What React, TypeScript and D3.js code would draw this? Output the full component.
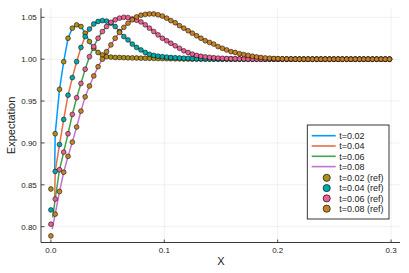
import React from 'react';
import * as d3 from 'd3';

// x grid (X)
const xGrid = [
  0, 0.0038, 0.0076, 0.0113, 0.0151, 0.0189, 0.0227, 0.0265, 0.0302, 0.034,
  0.0378, 0.0416, 0.0454, 0.0491, 0.0529, 0.0567, 0.0605, 0.0643, 0.068, 0.0718,
  0.0756, 0.0794, 0.0832, 0.0869, 0.0907, 0.0945, 0.0983, 0.1021, 0.1058, 0.1096,
  0.1134, 0.1172, 0.121, 0.1247, 0.1285, 0.1323, 0.1361, 0.1399, 0.1436, 0.1474,
  0.1512, 0.155, 0.1588, 0.1625, 0.1663, 0.1701, 0.1739, 0.1777, 0.1814, 0.1852,
  0.189, 0.1928, 0.1966, 0.2003, 0.2041, 0.2079, 0.2117, 0.2155, 0.2192, 0.223,
  0.2268, 0.2306, 0.2344, 0.2381, 0.2419, 0.2457, 0.2495, 0.2533, 0.257, 0.2608,
  0.2646, 0.2684, 0.2722, 0.2759, 0.2797, 0.2835, 0.2873, 0.2911, 0.2948, 0.2986,
];

const ref002 = [
  0.845, 0.911, 0.964, 0.997, 1.025, 1.037, 1.041, 1.039, 1.031, 1.021,
  1.013, 1.008, 1.005, 1.003, 1.0025, 1.002, 1.002, 1.0018, 1.0016, 1.0015,
  1.0014, 1.0012, 1.0011, 1.001, 1.0009, 1.0008, 1.0007, 1.0006, 1.0005, 1.0004,
  1.0003, 1.0002, 1.0001, 1, 1, 1, 1, 1, 1, 1,
  1, 1, 1, 1, 1, 1, 1, 1, 1, 1,
  1, 1, 1, 1, 1, 1, 1, 1, 1, 1,
  1, 1, 1, 1, 1, 1, 1, 1, 1, 1,
  1, 1, 1, 1, 1, 1, 1, 1, 1, 1,
];

const ref004 = [
  0.82, 0.866, 0.898, 0.928, 0.957, 0.978, 0.997, 1.014, 1.027, 1.036,
  1.042, 1.045, 1.046, 1.0455, 1.043, 1.039, 1.033, 1.027, 1.023, 1.018,
  1.014, 1.011, 1.008, 1.0058, 1.0045, 1.0036, 1.003, 1.0025, 1.002, 1.0017,
  1.0014, 1.0012, 1.001, 1.0008, 1.0006, 1.0005, 1.0004, 1.0003, 1.0002, 1.0001,
  1, 1, 1, 1, 1, 1, 1, 1, 1, 1,
  1, 1, 1, 1, 1, 1, 1, 1, 1, 1,
  1, 1, 1, 1, 1, 1, 1, 1, 1, 1,
  1, 1, 1, 1, 1, 1, 1, 1, 1, 1,
];

const ref006 = [
  0.803, 0.833, 0.868, 0.889, 0.911, 0.934, 0.954, 0.971, 0.988, 1.003,
  1.015, 1.025, 1.033, 1.039, 1.044, 1.047, 1.049, 1.05, 1.0497, 1.048,
  1.0465, 1.0445, 1.041, 1.037, 1.033, 1.029, 1.025, 1.022, 1.019, 1.016,
  1.013, 1.01, 1.008, 1.006, 1.0045, 1.0035, 1.0028, 1.0022, 1.0017, 1.0013,
  1.001, 1.0008, 1.0006, 1.0005, 1.0004, 1.0003, 1.0002, 1.0001, 1, 1,
  1, 1, 1, 1, 1, 1, 1, 1, 1, 1,
  1, 1, 1, 1, 1, 1, 1, 1, 1, 1,
  1, 1, 1, 1, 1, 1, 1, 1, 1, 1,
];

const ref008 = [
  0.789, 0.815, 0.842, 0.865, 0.884, 0.901, 0.919, 0.938, 0.955, 0.968,
  0.98, 0.991, 1.0, 1.009, 1.017, 1.025, 1.032, 1.038, 1.043, 1.047,
  1.0505, 1.0525, 1.0535, 1.054, 1.054, 1.053, 1.0515, 1.049, 1.046, 1.0435,
  1.04, 1.037, 1.034, 1.031, 1.028, 1.025, 1.022, 1.02, 1.018, 1.015,
  1.013, 1.011, 1.009, 1.008, 1.0065, 1.0055, 1.0045, 1.0035, 1.0027, 1.002,
  1.0015, 1.0011, 1.0008, 1.0006, 1.0004, 1.0003, 1.0002, 1.0001, 1, 1,
  1, 1, 1, 1, 1, 1, 1, 1, 1, 1,
  1, 1, 1, 1, 1, 1, 1, 1, 1, 1,
];

// solution lines start slightly off the grid
const lineLabels = ['t=0.02', 't=0.04', 't=0.06', 't=0.08'];
const refLabels = ['t=0.02 (ref)', 't=0.04 (ref)', 't=0.06 (ref)', 't=0.08 (ref)'];
const lineStartX = [0.0033, 0.0033, 0.0016, 0.0012];
const lineStartY = [0.866, 0.833, 0.811, 0.797];
const lineColors = ['#009AFA', '#E36F47', '#3EA44E', '#C371D2'];
const refColors = ['#AC8E18', '#00A9AD', '#ED5E93', '#C68225'];

const xTicks = [0, 0.1, 0.2, 0.3];
const xTickLabels = ['0.0', '0.1', '0.2', '0.3'];
const yTicks = [0.8, 0.85, 0.9, 0.95, 1.0, 1.05];
const yTickLabels = ['0.80', '0.85', '0.90', '0.95', '1.00', '1.05'];

const W = 409;
const H = 273;
const FONT = '"Liberation Sans", Arial, Helvetica, sans-serif';

export default function App() {
  const refs = [ref002, ref004, ref006, ref008];
  const x = d3.scaleLinear().domain([0, 0.3]).range([50.9, 391.1]);
  const y = d3.scaleLinear().domain([0.8, 1.05]).range([226.7, 17.3]);
  const left = 41, right = 400, top = 8.3, bottom = 242.5;

  const line = d3
    .line<[number, number]>()
    .x((d) => x(d[0]))
    .y((d) => y(d[1]));

  const lineData = refs.map((r, k) => {
    const pts: [number, number][] = [[lineStartX[k], lineStartY[k]]];
    for (let i = 1; i < xGrid.length; i++) pts.push([xGrid[i], r[i]]);
    return pts;
  });

  const legX = 307.3, legY = 125, legW = 81.7, legH = 94;
  const rowY = [135.7, 146, 156.3, 166.6, 177.8, 188.1, 198.4, 208.7];

  return (
    <svg
      width={W}
      height={H}
      style={{ position: 'absolute', left: 0, top: 0, background: '#fff' }}
      fontFamily={FONT}
    >
      <rect x={0} y={0} width={W} height={H} fill="#fff" />
      {/* grid */}
      {xTicks.map((t) => (
        <line key={'gx' + t} x1={x(t)} x2={x(t)} y1={top} y2={bottom} stroke="#000" strokeOpacity={0.1} strokeWidth={0.6} />
      ))}
      {yTicks.map((t) => (
        <line key={'gy' + t} x1={left} x2={right} y1={y(t)} y2={y(t)} stroke="#000" strokeOpacity={0.1} strokeWidth={0.6} />
      ))}
      {/* spines */}
      <line x1={left} x2={left} y1={top} y2={bottom} stroke="#222" strokeWidth={0.9} />
      <line x1={left} x2={right} y1={bottom} y2={bottom} stroke="#222" strokeWidth={0.9} />
      {/* ticks */}
      {xTicks.map((t, i) => (
        <g key={'xt' + t}>
          <line x1={x(t)} x2={x(t)} y1={bottom} y2={bottom - 3} stroke="#222" strokeWidth={0.8} />
          <text x={x(t)} y={253} fontSize={8} textAnchor="middle" fill="#222">{xTickLabels[i]}</text>
        </g>
      ))}
      {yTicks.map((t, i) => (
        <g key={'yt' + t}>
          <line x1={left} x2={left + 3.5} y1={y(t)} y2={y(t)} stroke="#222" strokeWidth={0.8} />
          <text x={36.8} y={y(t) + 2.9} fontSize={8} textAnchor="end" fill="#222">{yTickLabels[i]}</text>
        </g>
      ))}
      {/* axis labels */}
      <text x={221} y={265} fontSize={11} textAnchor="middle" fill="#222">X</text>
      <text transform={`translate(15,${(top + bottom) / 2}) rotate(-90)`} fontSize={11} textAnchor="middle" fill="#222">Expectation</text>

      {/* lines */}
      {lineData.map((d, k) => (
        <path key={'l' + k} d={line(d) || ''} fill="none" stroke={lineColors[k]} strokeWidth={1.5} />
      ))}
      {/* reference points */}
      {refs.map((r, k) => (
        <g key={'r' + k}>
          {r.map((v, i) => (
            <circle key={i} cx={x(xGrid[i])} cy={y(v)} r={2.4} fill={refColors[k]} stroke="#000" strokeOpacity={0.75} strokeWidth={0.7} />
          ))}
        </g>
      ))}

      {/* legend */}
      <rect x={legX} y={legY} width={legW} height={legH} fill="#fff" stroke="#222" strokeWidth={0.9} />
      {lineLabels.map((lab, k) => (
        <g key={'ll' + k}>
          <line x1={311.7} x2={335.7} y1={rowY[k]} y2={rowY[k]} stroke={lineColors[k]} strokeWidth={1.6} />
          <text x={339.3} y={rowY[k] + 3.2} fontSize={9} fill="#222">{lab}</text>
        </g>
      ))}
      {refLabels.map((lab, k) => (
        <g key={'lr' + k}>
          <circle cx={326.7} cy={rowY[k + 4]} r={3.6} fill={refColors[k]} stroke="#000" strokeOpacity={0.8} strokeWidth={0.8} />
          <text x={339.3} y={rowY[k + 4] + 3.2} fontSize={9} fill="#222">{lab}</text>
        </g>
      ))}
    </svg>
  );
}
